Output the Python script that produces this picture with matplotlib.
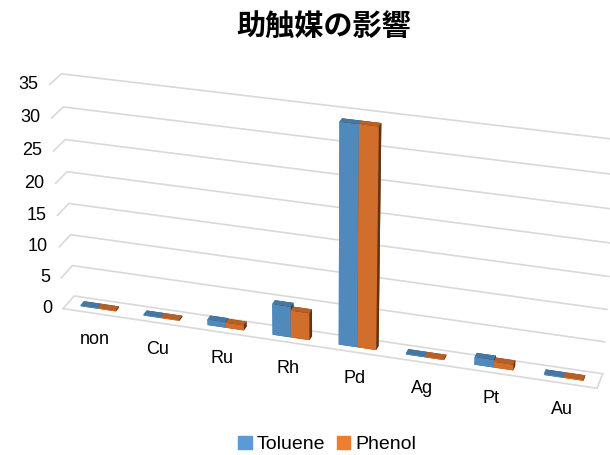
import numpy as np
import matplotlib.pyplot as plt
from matplotlib.patches import Patch
from mpl_toolkits.mplot3d import proj3d

plt.rcParams['font.family'] = ['Liberation Sans', 'Noto Sans CJK JP']

metals = ["non", "Cu", "Ru", "Rh", "Pd", "Ag", "Pt", "Au"]
toluene = [0.2, 0.2, 0.9, 4.9, 34.0, 0.2, 1.2, 0.2]
phenol = [0.2, 0.2, 0.8, 4.3, 34.0, 0.2, 0.9, 0.2]
z_ticks = [0, 5, 10, 15, 20, 25, 30, 35]

blue = "#5b9bd5"
orange = "#ed7d31"
grid = "#d9d9d9"

fig = plt.figure(figsize=(6.1, 4.55), dpi=100)
# square 3d region larger than the figure so nothing gets cropped
ax = fig.add_axes([-0.0315, -0.2576, 1.1, 1.47], projection="3d",
                  proj_type="persp", focal_length=0.6)
ax.set_axis_off()
ax.view_init(elev=26, azim=-73)
ax.set_box_aspect((570, 30, 255), zoom=0.906)

x0, x1 = -0.5, 7.5
y0, y1 = 0.0, 1.0
ax.set_xlim(x0, x1)
ax.set_ylim(y0, y1)
ax.set_zlim(0, 35)

# walls: side + back gridlines, then the floor edges
for z in z_ticks:
    ax.plot([x0, x0, x1], [y0, y1, y1], [z, z, z], color=grid, lw=1.2)
ax.plot([x0, x1, x1], [y0, y0, y1], [0, 0, 0], color=grid, lw=1.2)

idx = np.arange(len(metals))
w = 0.28
ax.bar3d(idx - w, 0.35, 0, w, 0.3, toluene, color=blue, shade=True)
ax.bar3d(idx, 0.35, 0, w, 0.3, phenol, color=orange, shade=True)

M = ax.get_proj()


def label(x, y, z, s, dx, dy, ha):
    px, py, _ = proj3d.proj_transform(x, y, z, M)
    ax.annotate(s, xy=(px, py), xytext=(dx, dy), textcoords="offset points",
                ha=ha, va="center", fontsize=13, annotation_clip=False)


for z in z_ticks:
    label(x0, y0, z, str(z), -8, 0, "right")
for i, name in enumerate(metals):
    label(i, y0, 0, name, 0, -19, "center")

fig.text(0.53, 0.943, "助触媒の影響", fontsize=21, fontweight="bold",
         family="Noto Sans CJK JP", ha="center", va="center")

handles = [Patch(color=blue, label="Toluene"), Patch(color=orange, label="Phenol")]
fig.legend(handles=handles, loc="lower center", ncol=2, frameon=False,
           fontsize=14, handlelength=0.7, handleheight=0.7,
           handletextpad=0.25, columnspacing=0.6, bbox_to_anchor=(0.536, -0.035))

fig.savefig("out.png", dpi=100)
